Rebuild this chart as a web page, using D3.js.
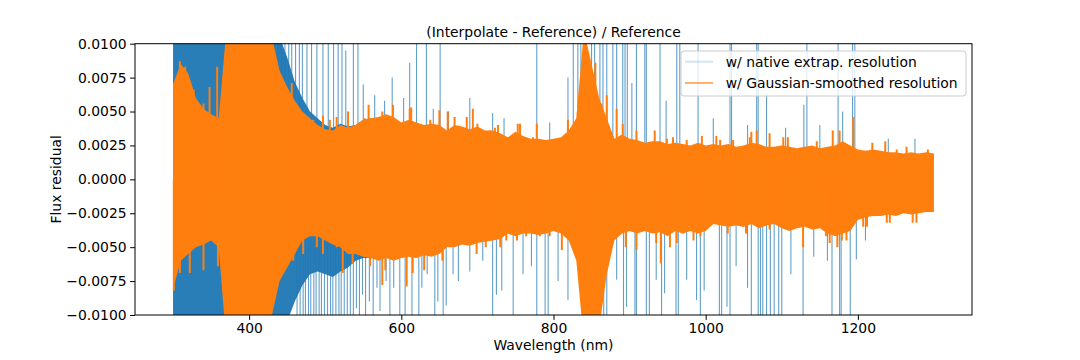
<!DOCTYPE html>
<html>
<head>
<meta charset="utf-8">
<script src="https://cdn.jsdelivr.net/npm/d3@7"></script>
<style>
  body { margin: 0; background: #fff; }
  svg { font-family: "DejaVu Sans", sans-serif; }
</style>
</head>
<body>
<svg id="chart" width="1080" height="360"></svg>
<script>
// wavelength grid (nm), one envelope value every 10 nm
var wavelengths = d3.range(300, 1301, 10)

// orange series: w/ Gaussian-smoothed resolution (upper / lower edge of the band)
var orangeHi = [
  0.0070, 0.0085, 0.0078, 0.0060, 0.0052, 0.0048, 0.0045, 0.0110, 0.0120, 0.0120,
  0.0120, 0.0120, 0.0120, 0.0105, 0.0080, 0.0068, 0.0058, 0.0050, 0.0045, 0.0040,
  0.0037, 0.0036, 0.0040, 0.0038, 0.0040, 0.0044, 0.0045, 0.0046, 0.0048, 0.0046,
  0.0042, 0.0044, 0.0042, 0.0040, 0.0041, 0.0040, 0.0036, 0.0040, 0.0039, 0.0037,
  0.0039, 0.0036, 0.0036, 0.0034, 0.0031, 0.0035, 0.0032, 0.0030, 0.0030, 0.0029,
  0.0030, 0.0031, 0.0036, 0.0045, 0.0110, 0.0085, 0.0060, 0.0045, 0.0030, 0.0033,
  0.0030, 0.0029, 0.0027, 0.0028, 0.0028, 0.0026, 0.0027, 0.0026, 0.0025, 0.0027,
  0.0025, 0.0026, 0.0025, 0.0026, 0.0024, 0.0025, 0.0027, 0.0026, 0.0024, 0.0024,
  0.0025, 0.0024, 0.0023, 0.0024, 0.0025, 0.0023, 0.0024, 0.0025, 0.0028, 0.0025,
  0.0022, 0.0021, 0.0022, 0.0021, 0.0020, 0.0020, 0.0019, 0.0020, 0.0019, 0.0020,
  0.0019
]
var orangeLo = [
  -0.0081, -0.0060, -0.0055, -0.0050, -0.0048, -0.0045, -0.0050, -0.0120, -0.0120, -0.0120,
  -0.0120, -0.0120, -0.0120, -0.0100, -0.0075, -0.0065, -0.0055, -0.0045, -0.0042, -0.0042,
  -0.0045, -0.0048, -0.0050, -0.0055, -0.0055, -0.0057, -0.0058, -0.0060, -0.0058, -0.0060,
  -0.0058, -0.0057, -0.0058, -0.0056, -0.0057, -0.0055, -0.0050, -0.0050, -0.0048, -0.0049,
  -0.0047, -0.0046, -0.0045, -0.0044, -0.0040, -0.0042, -0.0040, -0.0040, -0.0041, -0.0040,
  -0.0038, -0.0040, -0.0045, -0.0060, -0.0120, -0.0120, -0.0110, -0.0070, -0.0045, -0.0040,
  -0.0038, -0.0040, -0.0038, -0.0040, -0.0039, -0.0042, -0.0038, -0.0040, -0.0038, -0.0040,
  -0.0038, -0.0033, -0.0034, -0.0035, -0.0034, -0.0035, -0.0033, -0.0036, -0.0034, -0.0033,
  -0.0036, -0.0038, -0.0036, -0.0035, -0.0037, -0.0036, -0.0040, -0.0042, -0.0040, -0.0038,
  -0.0030, -0.0028, -0.0027, -0.0027, -0.0026, -0.0027, -0.0025, -0.0026, -0.0025, -0.0024,
  -0.0024
]

// orange peaks standing out of its band edges
var orangePeakNm = [
  309, 316, 327, 340, 348, 358, 436, 449, 456, 469, 484, 497, 506, 515, 530, 552, 557, 575,
  589, 611, 613, 638, 650, 661, 670, 686, 694, 700, 716, 723, 727, 753, 756, 773, 778, 799,
  819, 832, 855, 863, 870, 874, 883, 891, 909, 933, 949, 957, 975, 995, 1014, 1019, 1036,
  1058, 1060, 1067, 1084, 1102, 1108, 1146, 1167, 1176, 1194, 1219, 1236, 1251, 1264, 1292,
  301, 309, 322, 340, 359, 441, 458, 471, 489, 497, 502, 515, 523, 536, 559, 575, 579, 607,
  615, 630, 654, 699, 711, 730, 738, 752, 764, 782, 795, 811, 817, 832, 895, 909, 935, 941,
  953, 962, 970, 984, 993, 1029, 1049, 1053, 1084, 1128, 1158, 1163, 1173, 1179, 1185, 1207,
  1212, 1238, 1242, 1272, 1277
]
var orangePeakVal = [
  0.0087, 0.0083, 0.0066, 0.0056, 0.0068, 0.0083, 0.0078, 0.0061, 0.0071, 0.0047, 0.0044, 0.0047, 0.0044, 0.0046, 0.0050, 0.0045, 0.0055, 0.0050,
  0.0055, 0.0052, 0.0053, 0.0044, 0.0051, 0.0050, 0.0046, 0.0046, 0.0052, 0.0041, 0.0036, 0.0038, 0.0040, 0.0041, 0.0041, 0.0031, 0.0041, 0.0029,
  0.0044, 0.0050, 0.0086, 0.0056, 0.0062, 0.0034, 0.0052, 0.0041, 0.0036, 0.0036, 0.0030, 0.0031, 0.0029, 0.0032, 0.0032, 0.0029, 0.0029,
  0.0031, 0.0035, 0.0036, 0.0034, 0.0031, 0.0031, 0.0028, 0.0036, 0.0036, 0.0046, 0.0027, 0.0028, 0.0022, 0.0024, 0.0022,
  -0.0082, -0.0069, -0.0069, -0.0067, -0.0064, -0.0069, -0.0060, -0.0055, -0.0050, -0.0055, -0.0045, -0.0050, -0.0069, -0.0062, -0.0064, -0.0078, -0.0067, -0.0079,
  -0.0069, -0.0067, -0.0060, -0.0055, -0.0050, -0.0050, -0.0045, -0.0045, -0.0042, -0.0042, -0.0042, -0.0052, -0.0040, -0.0057, -0.0050, -0.0052, -0.0047, -0.0062,
  -0.0050, -0.0047, -0.0040, -0.0045, -0.0042, -0.0040, -0.0035, -0.0040, -0.0037, -0.0050, -0.0042, -0.0047, -0.0050, -0.0045, -0.0045, -0.0035,
  -0.0035, -0.0032, -0.0032, -0.0032, -0.0032
]

// blue series: w/ native extrap. resolution, dense part of the band (300-560 nm)
var blueNm = d3.range(300, 561, 10)
var blueHi = [
  0.0120, 0.0120, 0.0120, 0.0120, 0.0120, 0.0120, 0.0120, 0.0120, 0.0120, 0.0120,
  0.0120, 0.0120, 0.0120, 0.0120, 0.0105, 0.0090, 0.0072, 0.0060, 0.0050, 0.0045,
  0.0040, 0.0038, 0.0041, 0.0039, 0.0040, 0.0044, 0.0045
]
var blueLo = [
  -0.0120, -0.0120, -0.0120, -0.0120, -0.0120, -0.0120, -0.0120, -0.0120, -0.0120, -0.0120,
  -0.0120, -0.0120, -0.0120, -0.0120, -0.0115, -0.0105, -0.0090, -0.0078, -0.0070, -0.0068,
  -0.0070, -0.0072, -0.0068, -0.0065, -0.0060, -0.0058, -0.0058
]

// isolated blue spikes poking out of the band
var blueSpikeNm = [
  433, 438, 443, 447, 452, 456, 461, 466, 470, 476, 482, 489, 497, 504, 511, 517, 522, 527,
  537, 543, 550, 565, 578, 588, 603, 611, 620, 633, 642, 651, 662, 690, 720, 735, 778, 795,
  819, 826, 832, 836, 850, 854, 861, 865, 870, 878, 883, 891, 894, 897, 903, 909, 920, 922,
  940, 948, 962, 966, 990, 1010, 1032, 1034, 1055, 1067, 1069, 1080, 1105, 1129, 1133, 1150,
  1174, 1180, 1193, 1196, 1240, 1275,
  463, 467, 471, 474, 478, 481, 485, 488, 492, 495, 499, 503, 507, 510, 514, 518, 521, 525,
  529, 533, 537, 541, 545, 549, 553, 558, 563, 568, 572, 580, 585, 590, 598, 605, 614, 623,
  627, 634, 644, 648, 655, 659, 668, 675, 690, 707, 720, 725, 732, 747, 760, 771, 778, 789,
  793, 806, 819, 858, 862, 866, 870, 883, 892, 896, 907, 909, 922, 926, 935, 942, 946, 961,
  964, 975, 988, 993, 998, 1018, 1021, 1028, 1032, 1040, 1055, 1060, 1069, 1072, 1075, 1080,
  1085, 1090, 1096, 1100, 1112, 1128, 1142, 1160, 1166, 1176, 1178, 1190, 1198, 1210
]
var blueSpikeVal = [
  0.012, 0.012, 0.012, 0.012, 0.012, 0.012, 0.012, 0.012, 0.012, 0.012, 0.012, 0.012, 0.012, 0.012, 0.012, 0.012, 0.012, 0.0095,
  0.012, 0.012, 0.0070, 0.0062, 0.0058, 0.0075, 0.0060, 0.0086, 0.012, 0.012, 0.0052, 0.012, 0.0050, 0.0060, 0.0049, 0.0045, 0.012, 0.0042,
  0.0075, 0.012, 0.012, 0.012, 0.012, 0.012, 0.012, 0.012, 0.012, 0.012, 0.012, 0.012, 0.012, 0.012, 0.0071, 0.012, 0.012, 0.012,
  0.012, 0.0058, 0.012, 0.012, 0.012, 0.0045, 0.012, 0.012, 0.0040, 0.012, 0.012, 0.0063, 0.0038, 0.0055, 0.012, 0.0040,
  0.012, 0.0050, 0.012, 0.012, 0.0030, 0.0030,
  -0.012, -0.012, -0.012, -0.012, -0.012, -0.012, -0.012, -0.012, -0.012, -0.012, -0.012, -0.012, -0.012, -0.012, -0.012, -0.012, -0.012, -0.012,
  -0.012, -0.012, -0.012, -0.0095, -0.012, -0.0085, -0.012, -0.0090, -0.012, -0.0080, -0.0097, -0.0075, -0.012, -0.0080, -0.012, -0.012, -0.012, -0.012,
  -0.0080, -0.0070, -0.012, -0.0090, -0.012, -0.0093, -0.0070, -0.0075, -0.0068, -0.0060, -0.012, -0.0085, -0.0082, -0.012, -0.0070, -0.0064, -0.012, -0.012,
  -0.0100, -0.0075, -0.0089, -0.012, -0.012, -0.012, -0.012, -0.0074, -0.012, -0.0094, -0.012, -0.012, -0.012, -0.012, -0.0074, -0.012, -0.0084, -0.012,
  -0.012, -0.0074, -0.0089, -0.012, -0.0082, -0.012, -0.012, -0.0094, -0.012, -0.0064, -0.0080, -0.012, -0.012, -0.012, -0.012, -0.012,
  -0.012, -0.012, -0.012, -0.012, -0.0070, -0.012, -0.0057, -0.0060, -0.012, -0.012, -0.012, -0.012, -0.0059, -0.0045
]

var xTicks = [400, 600, 800, 1000, 1200]
var yTicks = [-0.01, -0.0075, -0.005, -0.0025, 0, 0.0025, 0.005, 0.0075, 0.01]

var titleText = '(Interpolate - Reference) / Reference'
var legendLabels = ['w/ native extrap. resolution', 'w/ Gaussian-smoothed resolution']

var blue = '#1f77b4', orange = '#ff7f0e'

var plotL = 135, plotR = 972, plotT = 43.7, plotB = 315

var svg = d3.select('#chart')

var x = d3.scaleLinear().domain([250, 1350]).range([plotL, plotR])
var y = d3.scaleLinear().domain([-0.01, 0.01]).range([plotB, plotT])

svg.append('defs').append('clipPath').attr('id', 'plotclip')
  .append('rect')
  .attr('x', plotL).attr('y', plotT)
  .attr('width', plotR - plotL).attr('height', plotB - plotT)

var plot = svg.append('g').attr('clip-path', 'url(#plotclip)')

function band(nm, hi, lo){
  return d3.area()
    .x(function(d){ return x(d) })
    .y0(function(d, i){ return y(lo[i]) })
    .y1(function(d, i){ return y(hi[i]) })(nm)
}

function spikes(cls, nm, vals, color, opacity, width){
  plot.selectAll('.' + cls)
    .data(nm)
    .enter().append('line')
    .classed(cls, true)
    .attr('x1', function(d){ return x(d) })
    .attr('x2', function(d){ return x(d) })
    .attr('y1', y(0))
    .attr('y2', function(d, i){ return y(vals[i]) })
    .attr('stroke', color)
    .attr('stroke-opacity', opacity)
    .attr('stroke-width', width)
}

// blue first, orange on top
plot.append('path')
  .attr('d', band(blueNm, blueHi, blueLo))
  .attr('fill', blue)
  .attr('fill-opacity', 0.95)

spikes('bluespike', blueSpikeNm, blueSpikeVal, blue, 0.7, 1.1)

plot.append('path')
  .attr('d', band(wavelengths, orangeHi, orangeLo))
  .attr('fill', orange)

spikes('orangepeak', orangePeakNm, orangePeakVal, orange, 1, 2)

// axes
var gx = svg.append('g')
  .attr('transform', 'translate(0,' + plotB + ')')
  .call(d3.axisBottom(x).tickValues(xTicks).tickFormat(d3.format('d')).tickSize(4.9).tickPadding(3.5).tickSizeOuter(0))
var gy = svg.append('g')
  .attr('transform', 'translate(' + plotL + ',0)')
  .call(d3.axisLeft(y).tickValues(yTicks).tickFormat(d3.format('.4f')).tickSize(4.9).tickPadding(3.5).tickSizeOuter(0))

;[gx, gy].forEach(function(g){
  g.attr('font-family', '"DejaVu Sans", sans-serif').attr('font-size', 13.9)
  g.select('.domain').remove()
  g.selectAll('.tick line').attr('stroke', '#000').attr('stroke-width', 1)
  g.selectAll('.tick text').attr('fill', '#000')
})

// spines
svg.append('rect')
  .attr('x', plotL).attr('y', plotT)
  .attr('width', plotR - plotL).attr('height', plotB - plotT)
  .attr('fill', 'none')
  .attr('stroke', '#000')
  .attr('stroke-width', 1)

svg.append('text')
  .attr('x', (plotL + plotR) / 2).attr('y', 36.5)
  .attr('text-anchor', 'middle')
  .attr('font-size', 13.9)
  .text(titleText)

svg.append('text')
  .attr('x', (plotL + plotR) / 2).attr('y', 350)
  .attr('text-anchor', 'middle')
  .attr('font-size', 13.9)
  .text('Wavelength (nm)')

svg.append('text')
  .attr('transform', 'translate(60.5,' + (plotT + plotB) / 2 + ') rotate(-90)')
  .attr('text-anchor', 'middle')
  .attr('font-size', 13.9)
  .text('Flux residual')

// legend
var lg = svg.append('g').attr('transform', 'translate(681,51)')
lg.append('rect')
  .attr('width', 285).attr('height', 45)
  .attr('rx', 3)
  .attr('fill', '#fff').attr('fill-opacity', 0.8)
  .attr('stroke', '#ccc')
var legendColors = [blue, orange]
var legendOpacity = [0.2, 1]
var legendWidth = [2, 1.2]
legendLabels.forEach(function(label, i){
  var ly = 10.7 + i * 21.3
  lg.append('line')
    .attr('x1', 4).attr('x2', 32)
    .attr('y1', ly).attr('y2', ly)
    .attr('stroke', legendColors[i])
    .attr('stroke-opacity', legendOpacity[i])
    .attr('stroke-width', legendWidth[i])
  lg.append('text')
    .attr('x', 44.7).attr('y', ly)
    .attr('dy', '0.35em')
    .attr('font-size', 13.9)
    .text(label)
})
</script>
</body>
</html>
